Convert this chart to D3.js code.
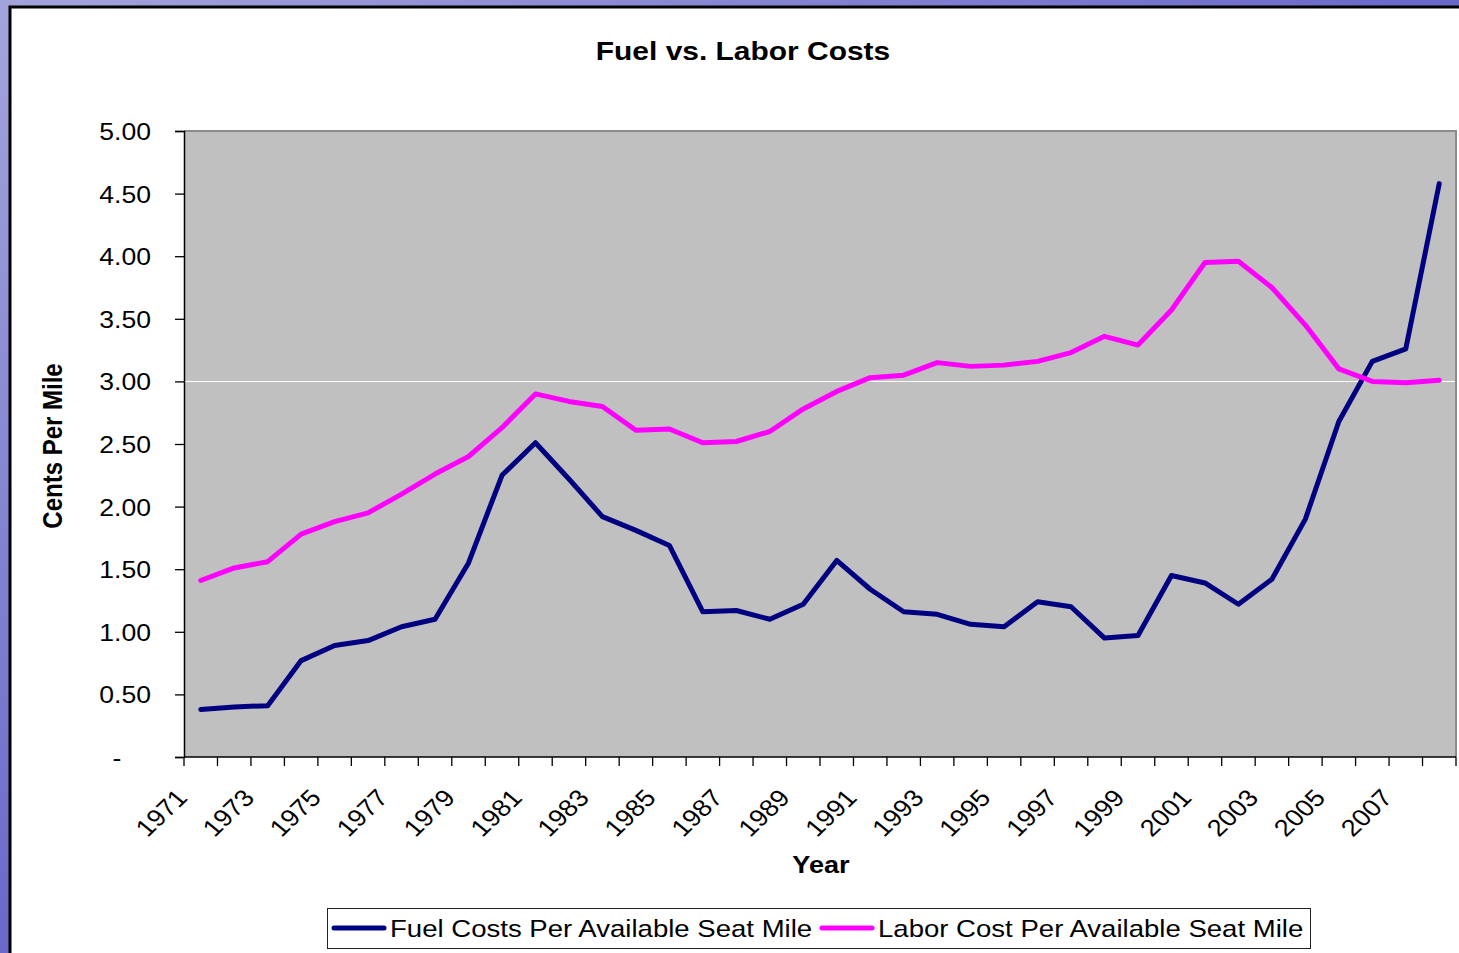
<!DOCTYPE html>
<html>
<head>
<meta charset="utf-8">
<script src="https://cdn.jsdelivr.net/npm/d3@7"></script>
<style>
  html, body { margin: 0; padding: 0; overflow: hidden; }
  svg { display: block; font-family: "Liberation Sans", Arial, sans-serif; }
</style>
</head>
<body>
<svg id="canvas"></svg>
<script>
// years on the category axis
const years = d3.range(1971, 2009);

// cents per available seat mile
const fuelCosts = [0.38, 0.40, 0.41, 0.77, 0.89, 0.93, 1.04, 1.10, 1.55, 2.25,
  2.51, 2.22, 1.92, 1.81, 1.69, 1.16, 1.17, 1.10, 1.22, 1.57,
  1.34, 1.16, 1.14, 1.06, 1.04, 1.24, 1.20, 0.95, 0.97, 1.45,
  1.39, 1.22, 1.42, 1.90, 2.68, 3.16, 3.26, 4.58];

const laborCosts = [1.41, 1.51, 1.56, 1.78, 1.88, 1.95, 2.10, 2.26, 2.40, 2.63,
  2.90, 2.84, 2.80, 2.61, 2.62, 2.51, 2.52, 2.60, 2.78, 2.92,
  3.03, 3.05, 3.15, 3.12, 3.13, 3.16, 3.23, 3.36, 3.29, 3.57,
  3.95, 3.96, 3.75, 3.45, 3.10, 3.00, 2.99, 3.01];

const yTicks = [0, 0.5, 1, 1.5, 2, 2.5, 3, 3.5, 4, 4.5, 5];
const gridValues = [3];

const seriesNames = ['Fuel Costs Per Available Seat Mile', 'Labor Cost Per Available Seat Mile'];
const seriesColors = ['#000080', '#ff00ff'];

// canvas
const width = 1459;
const height = 953;
const stretch = 1.13; // the picture is a little wide

const canvas = d3.select('#canvas')
  .attr('width', width)
  .attr('height', height);

// slide background
const defs = canvas.append('defs');
const grad = defs.append('linearGradient')
  .attr('id', 'slide')
  .attr('x1', 0).attr('y1', 0).attr('x2', 1).attr('y2', 1);
grad.append('stop').attr('offset', 0).attr('stop-color', '#a4a4dc');
grad.append('stop').attr('offset', 0.5).attr('stop-color', '#6a68c8');
grad.append('stop').attr('offset', 1).attr('stop-color', '#3c3cae');

canvas.append('rect')
  .attr('width', width).attr('height', height)
  .attr('fill', 'url(#slide)');

// chart area
canvas.append('rect')
  .attr('x', 10).attr('y', 7)
  .attr('width', width + 20).attr('height', height + 20)
  .attr('fill', '#fff')
  .attr('stroke', '#000')
  .attr('stroke-width', 3);

// scales
const plot = { left: 184, right: 1456, top: 131, bottom: 757 };

const xScale = d3.scaleBand()
  .domain(years)
  .range([plot.left, plot.right]);

const yScale = d3.scaleLinear()
  .domain([0, 5])
  .range([plot.bottom, plot.top]);

const xMid = (yr) => xScale(yr) + xScale.bandwidth() / 2;

// plot area
canvas.append('rect')
  .attr('x', plot.left).attr('y', plot.top)
  .attr('width', plot.right - plot.left)
  .attr('height', plot.bottom - plot.top)
  .attr('fill', '#c0c0c0');

canvas.append('path')
  .attr('d', `M${plot.left},${plot.top}H${plot.right}V${plot.bottom}`)
  .attr('fill', 'none')
  .attr('stroke', '#8c8c8c')
  .attr('stroke-width', 2);

canvas.selectAll('.grid')
  .data(gridValues)
  .enter()
  .append('line')
  .attr('class', 'grid')
  .attr('x1', plot.left).attr('x2', plot.right - 1)
  .attr('y1', d => Math.round(yScale(d)) + 0.5)
  .attr('y2', d => Math.round(yScale(d)) + 0.5)
  .attr('stroke', '#fff')
  .attr('stroke-width', 1);

// y axis
const yAxis = d3.axisLeft(yScale)
  .tickValues(yTicks)
  .tickSize(9)
  .tickFormat(d => d === 0 ? '-' : d3.format('.2f')(d));

const yAxisG = canvas.append('g')
  .attr('transform', `translate(${plot.left}, 0)`)
  .call(yAxis);

yAxisG.select('.domain').attr('stroke', '#000').attr('stroke-width', 1.5);
yAxisG.selectAll('.tick line').attr('stroke', '#000').attr('stroke-width', 1.3);
yAxisG.selectAll('.tick text')
  .attr('x', null)
  .attr('dy', null)
  .attr('font-size', 23.5)
  .attr('fill', '#000')
  .attr('text-anchor', d => d === 0 ? 'middle' : 'end')
  .attr('transform', d => `translate(${d === 0 ? -67 : -33}, 8.5) scale(${stretch}, 1)`);

// x axis: ticks sit on category boundaries
const xTickPos = years.map(yr => xScale(yr)).concat([plot.right]);

canvas.append('line')
  .attr('x1', plot.left).attr('x2', plot.right)
  .attr('y1', plot.bottom).attr('y2', plot.bottom)
  .attr('stroke', '#000').attr('stroke-width', 1.5);

canvas.selectAll('.xtick')
  .data(xTickPos)
  .enter()
  .append('line')
  .attr('class', 'xtick')
  .attr('x1', d => d).attr('x2', d => d)
  .attr('y1', plot.bottom).attr('y2', plot.bottom + 9)
  .attr('stroke', '#000').attr('stroke-width', 1.3);

canvas.selectAll('.xlabel')
  .data(years.filter((yr, i) => i % 2 === 0))
  .enter()
  .append('text')
  .attr('class', 'xlabel')
  .attr('font-size', 24)
  .attr('text-anchor', 'end')
  .attr('transform', yr => `translate(${xMid(yr) - 12}, 799) scale(${stretch}, 1) rotate(-47)`)
  .text(yr => yr);

// lines
const series = [fuelCosts, laborCosts];
const line = d3.line()
  .x((v, i) => xMid(years[i]))
  .y(v => yScale(v));

canvas.selectAll('.series')
  .data(series)
  .enter()
  .append('path')
  .attr('class', 'series')
  .attr('d', line)
  .attr('fill', 'none')
  .attr('stroke', (d, i) => seriesColors[i])
  .attr('stroke-width', 5)
  .attr('stroke-linejoin', 'round')
  .attr('stroke-linecap', 'round');

// titles
canvas.append('text')
  .attr('transform', `translate(743, 60) scale(${stretch}, 1)`)
  .attr('text-anchor', 'middle')
  .attr('font-size', 26.5)
  .attr('font-weight', 'bold')
  .text('Fuel vs. Labor Costs');

canvas.append('text')
  .attr('transform', `translate(821, 873) scale(${stretch}, 1)`)
  .attr('text-anchor', 'middle')
  .attr('font-size', 24)
  .attr('font-weight', 'bold')
  .text('Year');

canvas.append('text')
  .attr('transform', `translate(62, 446) scale(${stretch}, 1) rotate(-90)`)
  .attr('text-anchor', 'middle')
  .attr('font-size', 24)
  .attr('font-weight', 'bold')
  .text('Cents Per Mile');

// legend
const legend = canvas.append('g');
legend.append('rect')
  .attr('x', 327.5).attr('y', 908.5)
  .attr('width', 983).attr('height', 40)
  .attr('fill', '#fff')
  .attr('stroke', '#222')
  .attr('stroke-width', 1);

const legendX = [334, 822];
seriesNames.forEach((name, i) => {
  legend.append('line')
    .attr('x1', legendX[i]).attr('x2', legendX[i] + 50)
    .attr('y1', 928).attr('y2', 928)
    .attr('stroke', seriesColors[i])
    .attr('stroke-width', 5)
    .attr('stroke-linecap', 'round');
  legend.append('text')
    .attr('transform', `translate(${legendX[i] + 56}, 937) scale(${stretch}, 1)`)
    .attr('font-size', 24.4)
    .text(name);
});
</script>
</body>
</html>
